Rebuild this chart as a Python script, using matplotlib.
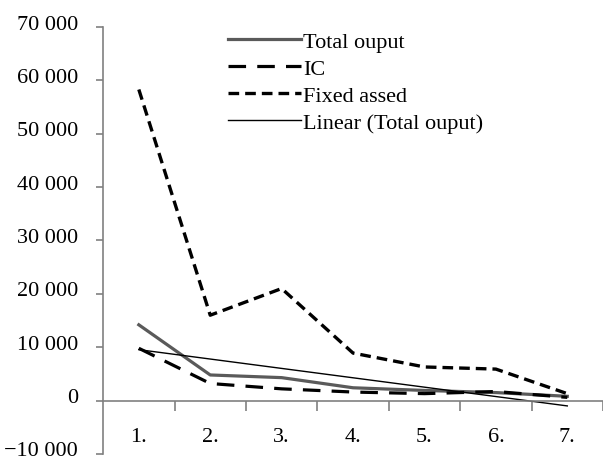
import numpy as np
import matplotlib
matplotlib.use('Agg')
import matplotlib.pyplot as plt
import matplotlib.transforms as mtransforms
from matplotlib.ticker import FixedLocator, FuncFormatter, NullFormatter

# data
periods = ['1.', '2.', '3.', '4.', '5.', '6.', '7.']
total_output = [14200, 4800, 4300, 2400, 1900, 1500, 800]
ic = [9800, 3200, 2200, 1600, 1300, 1700, 600]
fixed_assed = [58300, 16000, 21000, 8900, 6300, 5900, 1300]

x = np.arange(1, len(periods) + 1)

# linear trend of total output (least squares, like a spreadsheet trendline)
k, b = np.polyfit(x, total_output, 1)
trend = k * x + b

plt.rcParams['font.family'] = ['Liberation Serif', 'DejaVu Serif']
plt.rcParams['font.size'] = 16

fig = plt.figure(figsize=(6.03, 4.6), dpi=100)
ax = fig.add_axes([0.171, 0.011, 0.829, 0.928])

ax.plot(x, total_output, color='#5a5a5a', linewidth=2.3, label='Total ouput')
ax.plot(x, ic, color='black', linewidth=2.3, linestyle=(0, (5.5, 3.5)), label='IC')
ax.plot(x, fixed_assed, color='black', linewidth=2.4, linestyle=(0, (3.2, 1.8)), label='Fixed assed')
ax.plot(x, trend, color='black', linewidth=1.0, label='Linear (Total ouput)')

ax.set_xlim(0.5, 7.5)
ax.set_ylim(-10000, 70000)

# axes look: gray spines, x axis crossing at zero
for side in ['top', 'right']:
    ax.spines[side].set_visible(False)
for side in ['left', 'bottom']:
    ax.spines[side].set_color('#808080')
    ax.spines[side].set_linewidth(1.2)
ax.spines['bottom'].set_position(('data', 0))

ax.set_yticks(np.arange(-10000, 70001, 10000))
ax.yaxis.set_major_formatter(FuncFormatter(
    lambda v, pos: ('\u2212' if v < 0 else '') + '{:,}'.format(int(abs(v))).replace(',', ' ')))
ax.tick_params(axis='y', direction='out', length=5, width=1.2, color='#808080', pad=13)
# value labels sit a little above their tick marks
shift = mtransforms.ScaledTranslation(0, 4 / 72, fig.dpi_scale_trans)
for lbl in ax.get_yticklabels():
    lbl.set_transform(lbl.get_transform() + shift)

# ticks sit between the categories, labels at the centers
ax.xaxis.set_major_locator(FixedLocator(np.arange(1.5, 8.0, 1.0)))
ax.xaxis.set_major_formatter(NullFormatter())
ax.xaxis.set_minor_locator(FixedLocator(x))
ax.set_xticklabels(periods, minor=True)
ax.tick_params(axis='x', which='major', direction='out', length=7, width=1.2, color='#808080')
ax.tick_params(axis='x', which='minor', length=0, pad=19)

ax.legend(loc='upper left', bbox_to_anchor=(0.378, 0.930), bbox_transform=fig.transFigure,
          frameon=False, handlelength=3.3, handletextpad=0.1, labelspacing=0.29,
          borderaxespad=0, borderpad=0)

fig.savefig('out.png', dpi=100)
